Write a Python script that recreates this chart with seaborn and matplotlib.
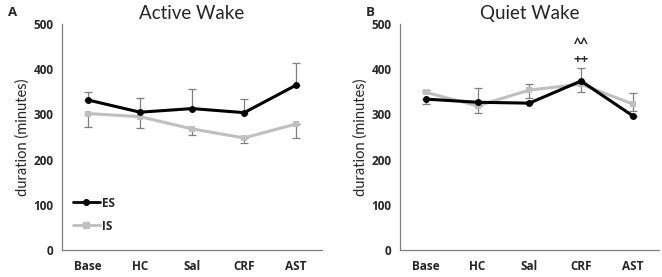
import matplotlib
matplotlib.use("Agg")
import matplotlib.pyplot as plt
import seaborn as sns
import pandas as pd
import numpy as np
from matplotlib.lines import Line2D

categories = ["Base", "HC", "Sal", "CRF", "AST"]
groups = ["ES", "IS"]

# Active Wake
aw_es = [332, 305, 313, 304, 365]
aw_is = [302, 295, 268, 248, 279]
aw_es_up = [17, 31, 44, 30, 50]
aw_es_lo = [0, 0, 0, 0, 0]
aw_is_up = [0, 0, 0, 0, 0]
aw_is_lo = [29, 26, 14, 12, 31]

# Quiet Wake
qw_es = [334, 327, 325, 374, 297]
qw_is = [349, 319, 354, 367, 323]
qw_es_up = [0, 31, 0, 29, 0]
qw_es_lo = [10, 0, 0, 0, 0]
qw_is_up = [5, 0, 13, 0, 24]
qw_is_lo = [0, 15, 18, 17, 16]

titles = ["Active Wake", "Quiet Wake"]
letters = ["A", "B"]
yticks = [0, 100, 200, 300, 400, 500]

sns.set_style("white")
plt.rcParams["font.family"] = ["Lato", "DejaVu Sans"]
BOLD = ["Open Sans", "DejaVu Sans"]

colors = {"ES": "#000000", "IS": "#bfbfbf"}
markers = {"ES": "o", "IS": "s"}

fig = plt.figure(figsize=(6.62, 2.77), dpi=100)
ax1 = fig.add_axes([0.0937, 0.0975, 0.393, 0.8155])
ax2 = fig.add_axes([0.604, 0.0975, 0.391, 0.8155])

panels = [
    (ax1, aw_es, aw_is, aw_es_up, aw_es_lo, aw_is_up, aw_is_lo),
    (ax2, qw_es, qw_is, qw_es_up, qw_es_lo, qw_is_up, qw_is_lo),
]

x = np.arange(len(categories))
for i, (ax, es, is_, esu, esl, isu, isl) in enumerate(panels):
    df = pd.DataFrame({
        "pos": np.concatenate([x, x]),
        "val": es + is_,
        "group": ["ES"] * len(es) + ["IS"] * len(is_),
    })
    ax.errorbar(x, es, yerr=[esl, esu], fmt="none", ecolor="#7f7f7f",
                elinewidth=0.9, capsize=3, capthick=0.9, zorder=1)
    ax.errorbar(x, is_, yerr=[isl, isu], fmt="none", ecolor="#7f7f7f",
                elinewidth=0.9, capsize=3, capthick=0.9, zorder=1)
    sns.lineplot(data=df, x="pos", y="val", hue="group", style="group",
                 hue_order=["IS", "ES"], palette=colors, markers=markers,
                 dashes=False, linewidth=2.2, markersize=5,
                 markeredgewidth=0, ax=ax, legend=False, zorder=3)
    ax.set_xlim(-0.5, 4.5)
    ax.set_ylim(0, 500)
    ax.set_yticks(yticks)
    ax.set_yticklabels([str(t) for t in yticks], fontweight="bold",
                       fontsize=8.5, family=BOLD)
    ax.set_xticks(x)
    ax.set_xticklabels(categories, fontweight="bold", fontsize=8.5, family=BOLD)
    ax.set_xticks(np.arange(-0.5, 5.0, 1.0), minor=True)
    ax.tick_params(axis="x", which="major", length=0, pad=7)
    ax.tick_params(axis="x", which="minor", length=4, width=0.8,
                   color="#808080", direction="out")
    ax.tick_params(axis="y", which="major", length=4, width=0.8,
                   color="#808080", direction="out", pad=2)
    ax.set_xlabel("")
    ax.set_ylabel("duration (minutes)", fontsize=10.5, labelpad=3)
    for s in ["top", "right"]:
        ax.spines[s].set_visible(False)
    for s in ["left", "bottom"]:
        ax.spines[s].set_color("#808080")
        ax.spines[s].set_linewidth(0.9)
    ax.set_title(titles[i], fontsize=13.5, pad=4)

fig.text(8 / 662, 1 - 12 / 277, letters[0], fontsize=9.5, fontweight="bold",
         family=BOLD, ha="left", va="center")
fig.text(366 / 662, 1 - 12 / 277, letters[1], fontsize=9.5, fontweight="bold",
         family=BOLD, ha="left", va="center")

ax2.text(3, 456, "^^", ha="center", va="center", fontsize=10,
         fontweight="bold", family=BOLD)
ax2.text(3, 422, "++", ha="center", va="center", fontsize=9.5,
         fontweight="bold", family=BOLD)

handles = [
    Line2D([0], [0], color=colors["ES"], marker="o", markersize=4, lw=2.0),
    Line2D([0], [0], color=colors["IS"], marker="s", markersize=4, lw=2.0),
]
ax1.legend(handles, groups, loc="lower left", bbox_to_anchor=(0.0, 0.03),
           frameon=False, handlelength=2.3, labelspacing=0.85,
           prop={"weight": "bold", "size": 8.5, "family": BOLD},
           handletextpad=0.2)

fig.savefig("out.png", dpi=100)
